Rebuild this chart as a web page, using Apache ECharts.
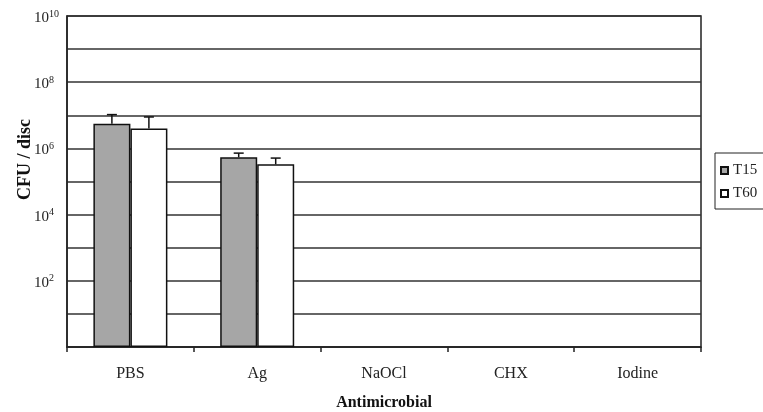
<!DOCTYPE html>
<html><head><meta charset="utf-8">
<script src="https://cdn.jsdelivr.net/npm/echarts@6/dist/echarts.min.js"></script>
<style>html,body{margin:0;padding:0;background:#fff}#c{width:763px;height:412px}</style>
</head><body><div id="c"></div>
<script>
var categories = ['PBS', 'Ag', 'NaOCl', 'CHX', 'Iodine'];
var t15 = [5.6e6, 5.4e5, null, null, null];
var t60 = [4.0e6, 3.3e5, null, null, null];
var t15Upper = [1.05e7, 7.2e5, null, null, null];
var t60Upper = [8.9e6, 5.1e5, null, null, null];

var serif = 'Liberation Serif';
var BW = 37;

function errSeries(name, vals, ups, dir) {
  var data = [];
  for (var i = 0; i < vals.length; i++) if (vals[i] != null) data.push([i, vals[i], ups[i]]);
  return {
    type: 'custom', name: name + ' err', z: 5,
    data: data,
    encode: {x: 0, y: [1, 2]},
    renderItem: function (params, api) {
      var base = api.coord([api.value(0), api.value(1)]);
      var top = api.coord([api.value(0), api.value(2)]);
      var x = base[0] + dir * BW / 2;
      return {type: 'group', children: [
        {type: 'line', shape: {x1: x, y1: base[1], x2: x, y2: top[1]}, style: {stroke: '#111', lineWidth: 1.5}},
        {type: 'line', shape: {x1: x - 5, y1: top[1], x2: x + 5, y2: top[1]}, style: {stroke: '#111', lineWidth: 1.5}}
      ]};
    },
    tooltip: {show: false}
  };
}

var chart = echarts.init(document.getElementById('c'));
chart.setOption({
  animation: false,
  textStyle: {fontFamily: serif},
  grid: {left: 67, right: 62, top: 16, bottom: 65, show: true, borderColor: '#222', borderWidth: 1.5,
    containLabel: false, outerBoundsMode: 'none'},
  legend: {
    orient: 'vertical', left: 715, top: 153,
    data: ['T15', 'T60'],
    icon: 'rect', itemWidth: 7, itemHeight: 7, itemGap: 8,
    borderColor: '#222', borderWidth: 1, padding: [10, 8, 8, 5],
    textStyle: {fontFamily: serif, fontSize: 15, color: '#222'}
  },
  xAxis: {
    type: 'category', data: categories,
    axisLine: {lineStyle: {color: '#222', width: 1.5}},
    axisTick: {show: true, length: 5, lineStyle: {color: '#222', width: 1.5}},
    axisLabel: {fontFamily: serif, fontSize: 16, color: '#222', margin: 19},
    name: 'Antimicrobial', nameLocation: 'middle', nameGap: 48, nameMoveOverlap: false,
    nameTextStyle: {fontFamily: serif, fontSize: 16, fontWeight: 'bold', color: '#111'}
  },
  yAxis: {
    type: 'log', logBase: 10, min: 1, max: 1e10, interval: 1,
    axisLine: {show: true, lineStyle: {color: '#222', width: 1.5}},
    axisTick: {show: false},
    splitLine: {show: true, lineStyle: {color: '#333', width: 1.5}},
    axisLabel: {
      margin: 33, align: 'left', padding: [4, 0, 0, 0],
      formatter: function (v) {
        var e = Math.round(Math.log10(v));
        if (e === 0 || e % 2 !== 0) return '';
        return '{b|10}{s|' + e + '}';
      },
      rich: {
        b: {fontFamily: serif, fontSize: 15, color: '#222', lineHeight: 18},
        s: {fontFamily: serif, fontSize: 10, color: '#222', lineHeight: 18, verticalAlign: 'top', padding: [0, 0, 4, 0]}
      }
    },
    name: 'CFU / disc', nameLocation: 'middle', nameGap: 33, nameMoveOverlap: false,
    nameTextStyle: {fontFamily: serif, fontSize: 18, fontWeight: 'bold', color: '#111', padding: [0, 0, 0, 44]}
  },
  series: [
    {type: 'bar', name: 'T15', data: t15, barWidth: BW, barGap: '0%',
      itemStyle: {color: '#a6a6a6', borderColor: '#111', borderWidth: 1.5}},
    {type: 'bar', name: 'T60', data: t60, barWidth: BW, barGap: '0%',
      itemStyle: {color: '#ffffff', borderColor: '#111', borderWidth: 1.5}},
    errSeries('T15', t15, t15Upper, -1),
    errSeries('T60', t60, t60Upper, 1)
  ]
});
</script></body></html>
